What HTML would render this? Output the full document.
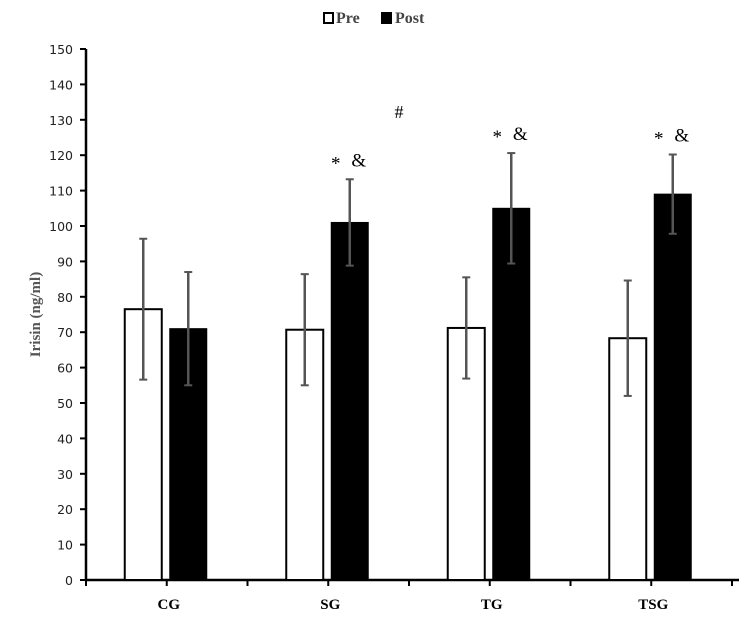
<!DOCTYPE html>
<html><head><meta charset="utf-8"><style>
body{margin:0;background:#fff;}
svg{display:block;}
</style></head><body>
<svg id="chart" width="744" height="621" xmlns="http://www.w3.org/2000/svg"></svg>
<script>
const categories=["CG","SG","TG","TSG"];
const preValues=[76.5,70.7,71.2,68.3];
const postValues=[71,101,105,109];
const preErr=[19.9,15.7,14.3,16.3];
const postErr=[16,12.2,15.6,11.2];
const yTicks=[0,10,20,30,40,50,60,70,80,90,100,110,120,130,140,150];
const annotations=["","* &","* &","* &"];

const svg=document.getElementById('chart');
const NS='http://www.w3.org/2000/svg';
const x0=86,y0=580,yTop=49,bandW=161.5;
function y(v){return y0-(v/150)*(y0-yTop);}
function bandX(i){return x0+bandW*i;}
function mk(tag,attrs,name){const e=document.createElementNS(NS,tag);for(const k in attrs)e.setAttribute(k,attrs[k]);


svg.appendChild(e);return e;}

mk('line',{x1:x0,y1:yTop,x2:x0,y2:y0,stroke:'#000','stroke-width':2.5},'y-axis');
yTicks.forEach(t=>{
 mk('line',{x1:x0-6,y1:y(t),x2:x0,y2:y(t),stroke:'#000','stroke-width':2},'y-tick');
 const tx=mk('text',{x:x0-13,y:y(t)+5,'text-anchor':'end','font-family':'DejaVu Sans, sans-serif','font-size':12.5,fill:'#222'},'y-tick-label');tx.textContent=t;
});
const yt=mk('text',{x:0,y:0,transform:'translate(40,'+((y0+yTop)/2)+') rotate(-90)','text-anchor':'middle','font-family':'Liberation Serif, serif','font-weight':'bold','font-size':15,fill:'#555'},'y-axis-title');yt.textContent='Irisin (ng/ml)';

mk('line',{x1:x0,y1:y0,x2:739,y2:y0,stroke:'#000','stroke-width':2.5},'x-axis');
for(let k=0;k<=categories.length*2;k++){const xx=x0+k*bandW/2;
 mk('line',{x1:xx,y1:y0,x2:xx,y2:y0+6,stroke:'#000','stroke-width':2},'x-tick');}

const bw=37;
categories.forEach((c,i)=>{
 const cx=bandX(i)+bandW/2;
 const px=cx-42, qx=cx+3;
 mk('rect',{x:px,y:y(preValues[i]),width:bw,height:y0-y(preValues[i]),fill:'#fff',stroke:'#000','stroke-width':2},'bar-pre-'+c.toLowerCase());
 mk('rect',{x:qx,y:y(postValues[i]),width:bw,height:y0-y(postValues[i]),fill:'#000',stroke:'#000','stroke-width':1},'bar-post-'+c.toLowerCase());
 [[px+bw/2,preValues[i],preErr[i],'pre'],[qx+bw/2,postValues[i],postErr[i],'post']].forEach(([ex,v,e,s])=>{
  mk('line',{x1:ex,y1:y(v+e),x2:ex,y2:y(v-e),stroke:'#555','stroke-width':2.5},'error-bar-'+s+'-'+c.toLowerCase());
  mk('line',{x1:ex-4,y1:y(v+e),x2:ex+4,y2:y(v+e),stroke:'#555','stroke-width':2},'error-cap');
  mk('line',{x1:ex-4,y1:y(v-e),x2:ex+4,y2:y(v-e),stroke:'#555','stroke-width':2},'error-cap');
 });
 const lb=mk('text',{x:cx+2,y:609,'text-anchor':'middle','font-family':'Liberation Serif, serif','font-weight':'bold','font-size':15},'x-label-'+c.toLowerCase());lb.textContent=c;
 if(annotations[i]){
  const parts=annotations[i].split(' ');
  const ay=y(postValues[i]+postErr[i])-13;
  const a1=mk('text',{x:qx+bw/2-14,y:ay+3,'text-anchor':'middle','font-family':'Liberation Serif, serif','font-size':19},'significance-star-'+c.toLowerCase());a1.textContent=parts[0];
  const a2=mk('text',{x:qx+bw/2+9,y:ay,'text-anchor':'middle','font-family':'Liberation Serif, serif','font-size':19},'significance-amp-'+c.toLowerCase());a2.textContent=parts[1];
 }
});
const h=mk('text',{x:399,y:118,'text-anchor':'middle','font-family':'Liberation Serif, serif','font-size':18},'significance-hash');h.textContent='#';

mk('rect',{x:324,y:13,width:9,height:10,fill:'#fff',stroke:'#000','stroke-width':2},'legend-pre-swatch');
const l1=mk('text',{x:336,y:23,'font-family':'Liberation Serif, serif','font-weight':'bold','font-size':16,fill:'#444'},'legend-pre-label');l1.textContent='Pre';
mk('rect',{x:381,y:12,width:11,height:12,fill:'#000'},'legend-post-swatch');
const l2=mk('text',{x:395,y:23,'font-family':'Liberation Serif, serif','font-weight':'bold','font-size':16,fill:'#444'},'legend-post-label');l2.textContent='Post';
</script>
</body></html>
